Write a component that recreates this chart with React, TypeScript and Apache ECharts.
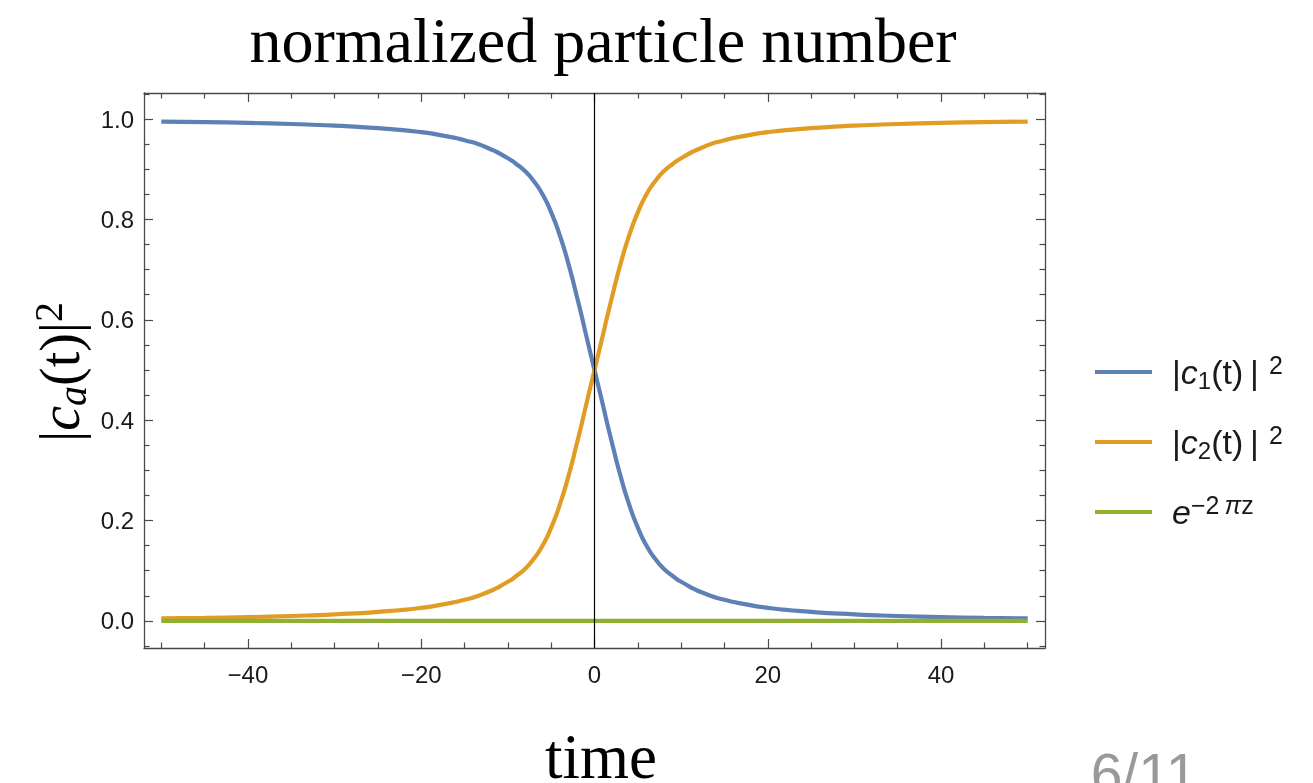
import React, { useEffect, useRef } from "react";
import * as echarts from "echarts";

// ---- data ----
const TIME = [-50, -45, -40, -35, -30, -25, -20, -17.5, -15, -12.5, -10, -9, -8, -7, -6, -5, -4, -3, -2, -1.5, -1, -0.5, 0, 0.5, 1, 1.5, 2, 3, 4, 5, 6, 7, 8, 9, 10, 12.5, 15, 17.5, 20, 25, 30, 35, 40, 45, 50];
const C1 = [0.995, 0.994, 0.9925, 0.9902, 0.987, 0.982, 0.974, 0.967, 0.958, 0.944, 0.922, 0.91, 0.896, 0.876, 0.85, 0.814, 0.768, 0.711, 0.644, 0.609, 0.572, 0.536, 0.5, 0.464, 0.428, 0.391, 0.356, 0.289, 0.232, 0.186, 0.15, 0.124, 0.104, 0.09, 0.078, 0.056, 0.042, 0.033, 0.026, 0.018, 0.013, 0.0098, 0.0075, 0.006, 0.005];
const C2 = [0.005, 0.006, 0.0075, 0.0098, 0.013, 0.018, 0.026, 0.033, 0.042, 0.056, 0.078, 0.09, 0.104, 0.124, 0.15, 0.186, 0.232, 0.289, 0.356, 0.391, 0.428, 0.464, 0.5, 0.536, 0.572, 0.609, 0.644, 0.711, 0.768, 0.814, 0.85, 0.876, 0.896, 0.91, 0.922, 0.944, 0.958, 0.967, 0.974, 0.982, 0.987, 0.9902, 0.9925, 0.994, 0.995];
const E_TIME = [-50, -25, 0, 25, 50];
const E_VAL = [0, 0, 0, 0, 0];

const X_MAJOR = [-40, -20, 0, 20, 40];
const X_MINOR = [-50, -45, -35, -30, -25, -15, -10, -5, 5, 10, 15, 25, 30, 35, 45, 50];
const Y_MAJOR = [0, 0.2, 0.4, 0.6, 0.8, 1.0];
const Y_MINOR = [-0.05, 0.05, 0.1, 0.15, 0.25, 0.3, 0.35, 0.45, 0.5, 0.55, 0.65, 0.7, 0.75, 0.85, 0.9, 0.95, 1.05];

const TITLE = "normalized particle number";
const X_NAME = "time";
const PAGE = "6/11";

const X_MIN = -52, X_MAX = 52;
const Y_MIN = -0.054, Y_MAX = 1.052;

const BLUE = "#5E81B5";
const ORANGE = "#E19C24";
const GREEN = "#8FB032";
const FRAME = "#4a4a4a";
const SANS = "'Liberation Sans', Arial, sans-serif";
const SERIF = "'Liberation Serif', 'Times New Roman', serif";

function xAxisDef(pos: string, values: number[], len: number, line: boolean, label: boolean) {
  return {
    type: "value",
    position: pos,
    min: X_MIN,
    max: X_MAX,
    axisLine: { show: line, onZero: false, lineStyle: { color: FRAME, width: 1.3 } },
    axisTick: { show: true, inside: true, length: len, customValues: values, lineStyle: { color: FRAME, width: 1.2 } },
    axisLabel: {
      show: label,
      customValues: values,
      margin: 14,
      color: "#1a1a1a",
      fontFamily: SANS,
      fontSize: 24,
      formatter: (v: number) => (v < 0 ? "\u2212" + Math.abs(v) : String(v)),
    },
    splitLine: { show: false },
    minorTick: { show: false },
  };
}

function yAxisDef(pos: string, values: number[], len: number, line: boolean, label: boolean) {
  return {
    type: "value",
    position: pos,
    min: Y_MIN,
    max: Y_MAX,
    axisLine: { show: line, onZero: false, lineStyle: { color: FRAME, width: 1.3 } },
    axisTick: { show: true, inside: true, length: len, customValues: values, lineStyle: { color: FRAME, width: 1.2 } },
    axisLabel: {
      show: label,
      customValues: values,
      margin: 10,
      color: "#1a1a1a",
      fontFamily: SANS,
      fontSize: 24,
      formatter: (v: number) => v.toFixed(1),
    },
    splitLine: { show: false },
    minorTick: { show: false },
  };
}

export default function App() {
  const ref = useRef<HTMLDivElement>(null);
  useEffect(() => {
    if (!ref.current) return;
    const chart = echarts.init(ref.current, null, { renderer: "svg" });
    const legendRich = {
      t: { fontFamily: SANS, fontSize: 34, lineHeight: 40, color: "#1a1a1a" },
      i: { fontFamily: SANS, fontSize: 34, lineHeight: 40, fontStyle: "italic", color: "#1a1a1a" },
      sub: { fontFamily: SANS, fontSize: 24, lineHeight: 20, verticalAlign: "bottom", color: "#1a1a1a" },
      sup: { fontFamily: SANS, fontSize: 25, lineHeight: 26, verticalAlign: "top", color: "#1a1a1a" },
      supi: { fontFamily: SANS, fontSize: 25, lineHeight: 26, verticalAlign: "top", fontStyle: "italic", color: "#1a1a1a" },
      g: { width: 15 },
    };
    const legendText: Record<string, string> = {
      c1: "{g| }{t||}{i|c}{sub|1}{t|(t)\u2009|}{sup|\u2009\u20092}",
      c2: "{g| }{t||}{i|c}{sub|2}{t|(t)\u2009|}{sup|\u2009\u20092}",
      e: "{g| }{i|e}{sup|\u22122\u2009}{supi|\u03c0}{sup|z}",
    };
    chart.setOption({
      animation: false,
      grid: { left: 144, top: 93, width: 901, height: 555, containLabel: false },
      xAxis: [
        xAxisDef("bottom", X_MAJOR, 9, true, true),
        xAxisDef("bottom", X_MINOR, 5.5, false, false),
        xAxisDef("top", X_MAJOR, 9, true, false),
        xAxisDef("top", X_MINOR, 5.5, false, false),
      ],
      yAxis: [
        yAxisDef("left", Y_MAJOR, 9, true, true),
        yAxisDef("left", Y_MINOR, 5.5, false, false),
        yAxisDef("right", Y_MAJOR, 9, true, false),
        yAxisDef("right", Y_MINOR, 5.5, false, false),
      ],
      legend: {
        orient: "vertical",
        left: 1095,
        top: 352,
        padding: 0,
        itemWidth: 57,
        itemHeight: 4,
        itemGap: 30,
        icon: "rect",
        selectedMode: false,
        data: ["c1", "c2", "e"],
        formatter: (name: string) => legendText[name],
        textStyle: { rich: legendRich },
      },
      series: [
        {
          name: "c1",
          type: "line",
          xAxisIndex: 0,
          yAxisIndex: 0,
          data: TIME.map((t, i) => [t, C1[i]]),
          showSymbol: false,
          smooth: 0.6,
          lineStyle: { color: BLUE, width: 4.2 },
          itemStyle: { color: BLUE },
        },
        {
          name: "c2",
          type: "line",
          xAxisIndex: 0,
          yAxisIndex: 0,
          data: TIME.map((t, i) => [t, C2[i]]),
          showSymbol: false,
          smooth: 0.6,
          lineStyle: { color: ORANGE, width: 4.2 },
          itemStyle: { color: ORANGE },
        },
        {
          name: "e",
          type: "line",
          xAxisIndex: 0,
          yAxisIndex: 0,
          data: E_TIME.map((t, i) => [t, E_VAL[i]]),
          showSymbol: false,
          lineStyle: { color: GREEN, width: 4.2 },
          itemStyle: { color: GREEN },
          markLine: {
            silent: true,
            symbol: "none",
            label: { show: false },
            lineStyle: { color: "#000", width: 1.2, type: "solid" },
            data: [{ xAxis: 0 }],
          },
        },
      ],
      graphic: [
        {
          type: "text",
          x: 603,
          y: 40,
          style: { text: TITLE, fontFamily: SERIF, fontSize: 64, fill: "#000", align: "center", verticalAlign: "middle" },
        },
        {
          type: "text",
          x: 601,
          y: 757,
          style: { text: X_NAME, fontFamily: SERIF, fontSize: 63, lineHeight: 40, fill: "#000", align: "center", verticalAlign: "middle" },
        },
        {
          type: "text",
          x: 1144,
          y: 774,
          style: { text: PAGE, fontFamily: SANS, fontSize: 57, lineHeight: 30, fill: "#999", align: "center", verticalAlign: "middle" },
        },
        {
          type: "text",
          x: 60,
          y: 372,
          rotation: Math.PI / 2,
          style: {
            text: "{b||}{i|c}{s|a}{b|(t)|}{p|2}",
            align: "center",
            verticalAlign: "middle",
            rich: {
              b: { fontFamily: SERIF, fontSize: 56, lineHeight: 64, fill: "#000" },
              i: { fontFamily: SERIF, fontSize: 56, lineHeight: 64, fontStyle: "italic", fill: "#000" },
              s: { fontFamily: SERIF, fontSize: 40, lineHeight: 44, fontStyle: "italic", verticalAlign: "bottom", fill: "#000" },
              p: { fontFamily: SERIF, fontSize: 40, lineHeight: 48, verticalAlign: "top", fill: "#000" },
            },
          },
        },
      ],
    });
    return () => chart.dispose();
  }, []);
  return <div ref={ref} style={{ position: "fixed", left: 0, top: 0, width: 1313, height: 783 }} />;
}
